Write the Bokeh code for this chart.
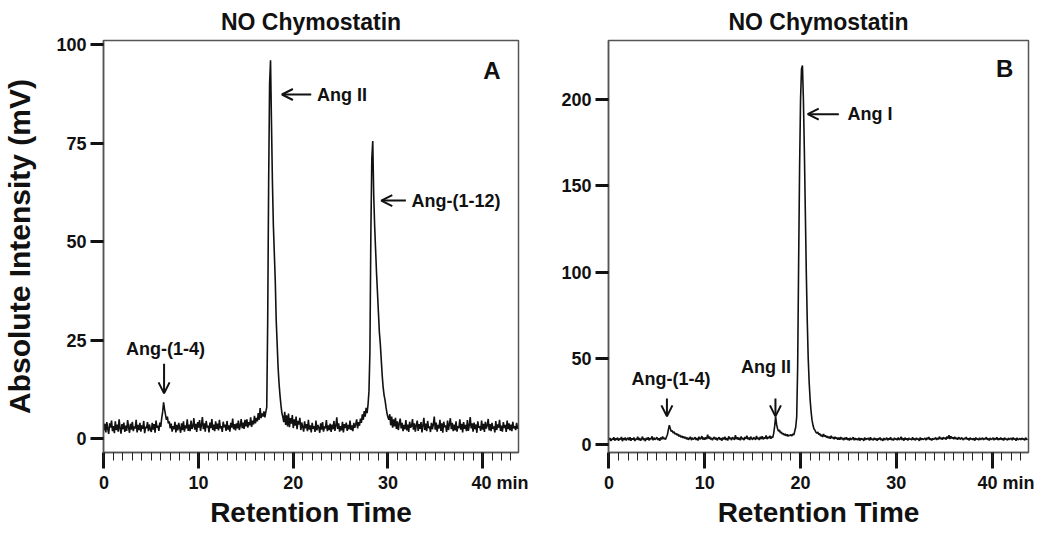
from bokeh.plotting import figure
from bokeh.models import SingleIntervalTicker, Range1d, Label, Arrow, OpenHead, Title
from bokeh.layouts import row
from bokeh.embed import file_html
from bokeh.resources import INLINE

FONT = "Liberation Sans"

sample_step_min = 0.1

# Panel A detector signal (mV), one value per 0.1 min
signal_a = [
    2.1, 3.8, 1.6, 4.2, 2.5, 1.2, 3.9, 2.8, 4.6, 1.9,
    3.2, 1.4, 4.4, 2.2, 3.6, 1.8, 4.9, 2.6, 1.3, 3.7,
    2.4, 4.1, 1.7, 3.3, 2.0, 4.7, 2.9, 1.5, 3.8, 2.3,
    4.3, 1.9, 3.1, 2.6, 4.8, 1.6, 3.5, 2.2, 4.0, 1.8,
    3.4, 2.5, 4.5, 1.4, 3.0, 2.7, 4.2, 1.9, 3.6, 2.4,
    1.7, 4.0, 2.3, 3.7, 1.5, 4.6, 2.8, 3.3, 2.0, 4.1,
    3.0, 5.2, 6.8, 9.2, 7.5, 6.1, 4.8, 5.6, 3.9, 4.4,
    2.6, 3.8, 1.8, 3.2, 2.4, 4.3, 1.6, 3.5, 2.1, 4.0,
    2.7, 1.5, 3.9, 2.2, 4.4, 1.8, 3.4, 2.6, 4.9, 2.0,
    3.6, 1.9, 4.6, 2.5, 3.1, 5.2, 2.3, 3.8, 1.7, 4.2,
    2.8, 4.7, 2.0, 3.5, 5.5, 2.4, 3.9, 1.8, 4.5, 2.9,
    3.3, 1.6, 4.1, 2.7, 5.0, 2.2, 3.6, 1.9, 4.4, 2.5,
    3.8, 2.1, 4.8, 2.6, 3.2, 1.7, 4.3, 2.9, 3.6, 2.0,
    4.5, 2.3, 3.4, 1.8, 4.0, 2.8, 5.1, 2.4, 3.7, 2.1,
    3.9, 2.6, 4.6, 2.2, 3.3, 5.0, 2.7, 4.1, 2.5, 4.8,
    3.1, 4.9, 2.8, 4.2, 3.4, 5.4, 3.0, 4.6, 3.6, 5.8,
    3.9, 5.3, 4.4, 6.5, 4.8, 7.8, 5.2, 6.4, 5.6, 6.9,
    5.4, 6.8, 8.0, 30.0, 65.0, 90.0, 96.0, 80.0, 65.0, 54.0,
    47.0, 40.0, 30.0, 24.0, 18.0, 14.0, 11.0, 8.5, 6.5, 5.5,
    4.2, 6.8, 3.5, 5.9, 3.1, 6.4, 2.9, 5.2, 3.8, 6.0,
    2.7, 4.9, 3.3, 5.6, 2.4, 4.5, 3.6, 5.3, 2.2, 4.1,
    3.0, 1.8, 4.4, 2.6, 3.7, 1.9, 4.8, 2.3, 3.4, 1.6,
    4.0, 2.5, 3.2, 1.7, 4.6, 2.1, 3.5, 2.8, 1.5, 3.9,
    2.3, 4.2, 1.8, 3.1, 2.6, 4.7, 1.9, 3.4, 2.2, 3.8,
    1.7, 3.6, 2.4, 4.5, 2.0, 3.3, 5.4, 2.5, 3.9, 1.8,
    3.2, 2.1, 4.3, 1.6, 3.7, 2.7, 4.1, 2.0, 3.5, 2.4,
    4.6, 2.2, 3.4, 1.9, 4.0, 2.8, 3.6, 4.9, 2.6, 4.2,
    3.3, 5.1, 4.0, 6.2, 4.8, 7.0, 5.6, 7.8, 6.5, 8.6,
    12.0, 22.0, 52.0, 71.0, 75.5, 62.0, 54.0, 48.0, 42.0, 37.0,
    32.0, 27.0, 24.0, 20.0, 16.0, 13.0, 11.0, 9.8, 8.0, 6.5,
    5.5, 4.8, 6.2, 3.4, 5.6, 2.8, 4.9, 3.1, 5.3, 2.5,
    4.4, 2.2, 3.8, 5.1, 2.6, 4.0, 1.9, 3.5, 2.4, 4.7,
    2.1, 3.6, 1.7, 4.3, 2.8, 3.2, 5.0, 2.3, 3.9, 1.8,
    3.4, 4.6, 2.0, 3.7, 2.5, 4.2, 1.6, 3.3, 5.3, 2.2,
    3.8, 1.9, 4.5, 2.7, 3.1, 1.7, 4.0, 2.4, 3.6, 5.6,
    2.3, 4.1, 1.8, 3.5, 2.6, 4.8, 2.0, 3.9, 1.5, 4.3,
    2.9, 3.4, 1.7, 4.6, 2.2, 3.7, 5.2, 2.4, 4.0, 1.9,
    3.6, 2.1, 4.4, 1.8, 3.2, 2.7, 4.9, 2.3, 3.8, 1.6,
    4.2, 2.5, 3.5, 1.9, 4.7, 2.0, 3.3, 5.5, 2.6, 3.9,
    1.8, 4.1, 2.4, 3.6, 1.5, 4.4, 2.8, 3.2, 2.0, 4.6,
    2.3, 3.8, 1.7, 4.3, 2.6, 3.4, 5.0, 2.1, 3.7, 1.9,
    4.0, 2.5, 3.1, 1.6, 4.5, 2.2, 3.6, 2.8, 4.8, 2.0,
    3.3, 1.8, 4.2, 2.7, 3.5, 1.7, 4.6, 2.4, 3.9, 2.1,
    3.6, 1.9, 4.3, 2.6, 3.2, 2.2, 4.0, 2.5,
]

# Panel B detector signal (mV), one value per 0.1 min
signal_b = [
    2.4, 3.6, 1.9, 3.2, 2.7, 4.0, 2.1, 3.4, 2.6, 3.8,
    2.0, 3.3, 2.8, 4.2, 1.8, 3.5, 2.5, 3.9, 2.2, 3.1,
    3.7, 2.3, 4.1, 2.0, 3.4, 2.7, 3.9, 1.9, 3.2, 2.6,
    4.3, 2.4, 3.6, 2.1, 3.0, 4.4, 2.5, 3.3, 1.8, 3.7,
    2.6, 4.0, 2.2, 3.5, 2.9, 4.6, 2.3, 3.8, 2.7, 3.2,
    4.1, 2.5, 3.4, 2.0, 3.9, 2.8, 4.5, 3.0, 3.6, 2.7,
    4.2, 5.5, 8.5, 11.0, 9.2, 7.4, 8.0, 6.5, 7.2, 5.8,
    6.4, 5.2, 5.9, 4.6, 5.3, 4.1, 4.8, 3.7, 4.5, 3.4,
    4.2, 2.9, 3.9, 2.6, 3.5, 4.3, 2.4, 3.8, 2.8, 3.3,
    4.0, 2.5, 3.6, 2.2, 4.4, 2.9, 3.4, 4.7, 2.7, 3.9,
    2.6, 4.1, 3.0, 5.6, 3.3, 4.5, 2.8, 3.7, 2.4, 3.5,
    4.2, 2.7, 3.8, 2.3, 3.4, 4.0, 2.6, 3.6, 2.1, 3.9,
    2.8, 4.3, 2.5, 3.5, 2.2, 4.6, 3.1, 3.7, 2.4, 4.0,
    3.3, 2.6, 5.2, 3.0, 4.1, 2.7, 3.8, 2.3, 4.5, 2.9,
    3.6, 2.4, 4.2, 3.1, 5.0, 2.8, 3.9, 2.5, 4.4, 3.2,
    2.7, 4.1, 3.4, 2.6, 4.8, 3.0, 3.7, 2.5, 4.3, 3.1,
    4.6, 2.9, 3.8, 3.3, 5.1, 3.0, 4.2, 3.5, 4.9, 3.2,
    4.4, 3.8, 6.5, 10.5, 16.0, 11.5, 9.0, 7.5, 8.2, 6.6,
    7.0, 5.8, 6.4, 5.2, 6.0, 4.9, 5.7, 4.6, 5.3, 5.0,
    5.6, 4.8, 6.1, 5.4, 7.7, 10.0, 16.0, 45.0, 105.0, 160.0,
    200.0, 218.0, 220.0, 200.0, 170.0, 135.0, 100.0, 72.0, 50.0, 36.0,
    26.0, 19.0, 14.0, 11.0, 9.0, 8.2, 7.0, 6.4, 7.1, 5.6,
    6.2, 4.8, 5.5, 4.2, 6.0, 4.5, 5.1, 3.9, 4.7, 3.6,
    4.4, 3.2, 4.9, 3.5, 4.1, 2.9, 4.3, 3.3, 3.8, 2.7,
    3.9, 2.6, 4.2, 3.0, 3.5, 2.4, 3.8, 2.8, 4.0, 2.5,
    3.4, 2.2, 3.7, 2.7, 3.1, 4.1, 2.3, 3.6, 2.6, 3.3,
    2.4, 3.8, 2.1, 3.5, 2.8, 3.2, 2.0, 3.9, 2.5, 3.4,
    2.9, 3.6, 2.2, 4.0, 2.6, 3.1, 2.3, 3.7, 2.7, 3.3,
    2.1, 3.5, 2.8, 3.9, 2.4, 3.2, 2.0, 3.6, 2.6, 3.0,
    3.8, 2.3, 3.4, 2.7, 4.1, 2.5, 3.1, 2.2, 3.7, 2.8,
    3.3, 2.4, 3.9, 2.6, 3.0, 4.3, 2.5, 3.5, 2.1, 3.8,
    2.7, 3.4, 2.2, 3.6, 2.9, 3.1, 2.4, 4.0, 2.6, 3.3,
    2.3, 3.7, 2.8, 3.2, 2.0, 3.9, 2.5, 3.4, 2.7, 3.0,
    3.6, 2.4, 3.8, 2.9, 4.2, 2.6, 3.3, 2.2, 3.5, 2.8,
    3.1, 3.9, 2.5, 3.6, 2.8, 4.4, 3.0, 3.7, 2.6, 4.1,
    3.2, 3.8, 2.7, 4.5, 3.3, 5.2, 3.0, 4.6, 3.4, 4.0,
    2.9, 4.3, 3.1, 3.7, 2.6, 4.0, 3.5, 2.8, 3.9, 3.2,
    2.5, 3.6, 3.0, 4.2, 2.7, 3.4, 2.3, 3.8, 2.9, 3.3,
    2.6, 3.5, 2.1, 3.9, 2.8, 3.2, 2.4, 3.7, 2.7, 3.1,
    3.8, 2.5, 3.4, 2.9, 4.1, 2.6, 3.3, 2.2, 3.6, 2.8,
    3.0, 3.7, 2.4, 3.5, 2.8, 4.0, 2.5, 3.3, 2.7, 3.9,
    2.6, 3.4, 2.2, 3.8, 2.9, 3.1, 2.3, 3.6, 2.7, 3.2,
    3.5, 2.4, 3.9, 2.8, 3.3, 2.1, 3.7, 2.6, 3.0, 3.4,
    2.5, 3.6, 2.9, 3.2, 2.3, 3.8, 2.7, 3.1,
]

time_a = [round(i * sample_step_min, 1) for i in range(len(signal_a))]
time_b = [round(i * sample_step_min, 1) for i in range(len(signal_b))]

panel_title = "NO Chymostatin"
x_label = "Retention Time"
y_label = "Absolute Intensity (mV)"
# "40 min": padded on the left (no-break spaces) so that "40" sits on its tick
x_tick_text_a = {40: "\u00a0" * 7 + "40 min"}
x_tick_text_b = {40: "\u00a0" * 6 + "40 min"}
x_max = 43.8
FIG_H = 531


def make_panel(t, sig, y_lo, y_hi, y_step, width, mb_left, mb_right, ylab, tick_text):
    p = figure(width=width, height=FIG_H, output_backend="svg", toolbar_location=None,
               x_range=Range1d(-0.05, x_max), y_range=Range1d(y_lo, y_hi),
               min_border_left=mb_left, min_border_right=mb_right,
               min_border_top=32, min_border_bottom=FIG_H - 452)
    p.title.text = panel_title
    p.title.align = "center"
    p.title.text_font = FONT
    p.title.text_font_size = "23px"
    p.title.text_font_style = "bold"
    p.title.text_color = "#111111"
    p.title.standoff = 12
    p.grid.visible = False
    p.outline_line_color = "#555555"
    p.outline_line_width = 1.5
    p.background_fill_color = "white"
    p.border_fill_color = "white"

    p.line(t, sig, line_color="#111111", line_width=1.6)

    xa = p.xaxis[0]
    xa.ticker = SingleIntervalTicker(interval=10, num_minor_ticks=10)
    xa.major_label_overrides = tick_text
    xa.axis_line_color = "#555555"
    xa.axis_line_width = 1.5
    xa.major_tick_line_width = 3
    xa.major_tick_line_color = "#111111"
    xa.major_tick_out = 16
    xa.major_tick_in = 0
    xa.minor_tick_line_width = 1
    xa.minor_tick_line_color = "#222222"
    xa.minor_tick_out = 8
    xa.minor_tick_in = 0
    xa.major_label_standoff = 4
    xa.major_label_text_font = FONT
    xa.major_label_text_font_size = "18px"
    xa.major_label_text_font_style = "bold"
    xa.major_label_text_color = "#111111"

    p.add_layout(Title(text=x_label, align="center", text_font=FONT,
                       text_font_size="28px", text_font_style="bold",
                       text_color="#111111", standoff=-2), "below")

    ya = p.yaxis[0]
    ya.ticker = SingleIntervalTicker(interval=y_step, num_minor_ticks=0)
    ya.axis_line_color = "#555555"
    ya.axis_line_width = 1.5
    ya.major_tick_line_width = 3
    ya.major_tick_line_color = "#111111"
    ya.major_tick_out = 13
    ya.major_tick_in = 0
    ya.minor_tick_out = 0
    ya.minor_tick_in = 0
    ya.major_label_standoff = 4
    ya.major_label_text_font = FONT
    ya.major_label_text_font_size = "18px"
    ya.major_label_text_font_style = "bold"
    ya.major_label_text_color = "#111111"
    if ylab:
        ya.axis_label = ylab
        ya.axis_label_text_font = FONT
        ya.axis_label_text_font_size = "30px"
        ya.axis_label_text_font_style = "bold"
        ya.axis_label_text_color = "#111111"
        ya.axis_label_standoff = 17
    return p


def add_text(p, x, y, text, align="left", size="18px"):
    p.add_layout(Label(x=x, y=y, text=text, text_font=FONT, text_font_size=size,
                       text_font_style="bold", text_color="#111111",
                       text_align=align, text_baseline="middle"))


def add_arrow(p, xs, ys, xe, ye):
    p.add_layout(Arrow(end=OpenHead(size=11, line_width=2, line_color="#111111"),
                       x_start=xs, y_start=ys, x_end=xe, y_end=ye,
                       line_width=2, line_color="#111111"))


# Panel A
pa = make_panel(time_a, signal_a, -3.5, 101.0, 25, 530, 99, 12, y_label, x_tick_text_a)
add_text(pa, 41.0, 93.4, "A", align="center", size="24px")
add_arrow(pa, 21.9, 87.3, 18.8, 87.3)
add_text(pa, 22.5, 87.3, "Ang II")
add_arrow(pa, 31.9, 60.4, 29.3, 60.4)
add_text(pa, 32.5, 60.4, "Ang-(1-12)")
add_arrow(pa, 6.35, 19.0, 6.35, 11.5)
add_text(pa, 6.5, 22.8, "Ang-(1-4)", align="center")

# Panel B
pb = make_panel(time_b, signal_b, -4.8, 234.5, 50, 504, 78, 6, None, x_tick_text_b)
add_text(pb, 41.3, 218.0, "B", align="center", size="24px")
add_arrow(pb, 24.0, 191.7, 20.75, 191.7)
add_text(pb, 24.9, 191.7, "Ang I")
add_arrow(pb, 6.05, 26.5, 6.05, 16.2)
add_text(pb, 6.47, 37.9, "Ang-(1-4)", align="center")
add_arrow(pb, 17.38, 26.5, 17.38, 16.2)
add_text(pb, 16.4, 44.7, "Ang II", align="center")

layout = row(pa, pb)
open("out.html", "w").write(file_html(layout, INLINE))
